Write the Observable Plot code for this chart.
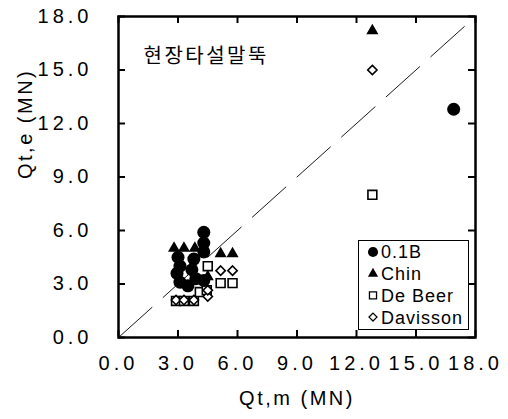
<!DOCTYPE html>
<html><head><meta charset="utf-8">
<script src="https://cdn.jsdelivr.net/npm/d3@7"></script>
<script src="https://cdn.jsdelivr.net/npm/@observablehq/plot@0.6"></script>
<style>
body{margin:0;background:#fff}
#c{position:relative;width:508px;height:419px}
#legend{position:absolute;left:0;top:0}
</style>
</head><body><div id="c"></div>
<script>
// ---- data ----
const tickValues = [0, 3, 6, 9, 12, 15, 18];
const tickLabels = ["0.0", "3.0", "6.0", "9.0", "12.0", "15.0", "18.0"];
const seriesNames = ["0.1B", "Chin", "De Beer", "Davisson"];
const title = "현장타설말뚝";
const xTitle = "Qt,m (MN)";
const yTitle = "Qt,e (MN)";

const b01X = [16.9, 4.3, 4.3, 4.3, 3.0, 3.1, 2.95, 3.1, 3.5, 3.9, 4.3, 3.7, 3.8];
const b01Y = [12.8, 5.9, 5.3, 4.8, 4.5, 4.0, 3.6, 3.1, 2.9, 3.3, 3.2, 3.8, 4.4];
const chinX = [12.8, 2.8, 3.3, 3.85, 5.15, 5.75, 4.5];
const chinY = [17.2, 5.0, 5.0, 5.0, 4.7, 4.7, 3.4];
const deBeerX = [12.8, 2.9, 3.3, 3.8, 4.1, 4.45, 4.5, 5.15, 5.75];
const deBeerY = [8.0, 2.05, 2.05, 2.05, 2.55, 2.65, 4.0, 3.05, 3.05];
const davX = [12.8, 2.9, 3.3, 3.8, 4.5, 4.5, 5.15, 5.75];
const davY = [15.0, 2.1, 2.1, 2.1, 2.3, 2.65, 3.75, 3.75];
const lineX = [0, 18];
const lineY = [0, 18];

// ---- build ----
const pts = (xs, ys) => xs.map((x, i) => ({x, y: ys[i]}));
const diag = pts(lineX, lineY);
const W = 508, H = 419, mL = 118, mR = 33, mT = 16, mB = 82;
const pw = W - mL - mR, ph = H - mT - mB;
const font = "'Liberation Sans', Arial, sans-serif";
const lab = d => tickLabels[tickValues.indexOf(d)];

const plot = Plot.plot({
  width: W, height: H,
  marginLeft: mL, marginRight: mR, marginTop: mT, marginBottom: mB,
  style: {fontFamily: font, background: "#fff", color: "#000", overflow: "visible"},
  x: {domain: [0, 18]},
  y: {domain: [0, 18]},
  marks: [
    Plot.line(diag, {x: "x", y: "y", stroke: "#000", strokeWidth: 0.9, strokeDasharray: "45,15"}),
    Plot.dot(pts(deBeerX, deBeerY), {x: "x", y: "y", symbol: "square", r: 5, fill: "#fff", stroke: "#000", strokeWidth: 1.6}),
    Plot.dot(pts(davX, davY), {x: "x", y: "y", symbol: "diamond2", r: 4.2, fill: "#fff", stroke: "#000", strokeWidth: 1.6}),
    Plot.dot(pts(chinX, chinY), {x: "x", y: "y", symbol: "triangle", r: 4.5, fill: "#000", stroke: "none"}),
    Plot.dot(pts(b01X, b01Y), {x: "x", y: "y", symbol: "circle", r: 6.5, fill: "#000", stroke: "none"}),
    Plot.frame({stroke: "#000", strokeWidth: 2.5}),
    Plot.tickX(tickValues, {x: d => d, insetTop: ph - 7, stroke: "#000", strokeWidth: 2}),
    Plot.tickX(tickValues, {x: d => d, insetBottom: ph - 7, stroke: "#000", strokeWidth: 2}),
    Plot.tickY(tickValues, {y: d => d, insetRight: pw - 7, stroke: "#000", strokeWidth: 2}),
    Plot.tickY(tickValues, {y: d => d, insetLeft: pw - 7, stroke: "#000", strokeWidth: 2}),
    Plot.axisX({ticks: tickValues, tickFormat: lab, tickSize: 0, tickPadding: 18, fontSize: 20, label: null}),
    Plot.axisY({ticks: tickValues, tickFormat: lab, tickSize: 0, tickPadding: 26, fontSize: 20, label: null}),
    Plot.text([xTitle], {frameAnchor: "bottom", dy: 67, fontSize: 20, fill: "#000"}),
    Plot.text([yTitle], {frameAnchor: "left", dx: -93, dy: 2, rotate: -90, fontSize: 20, fill: "#000"}),
    Plot.text([title], {frameAnchor: "top-left", dx: 25, dy: 32, textAnchor: "start", fontSize: 20,
      fontFamily: "'Noto Sans CJK KR', sans-serif", fill: "#000"})
  ]
});
const svg = d3.select(plot);
svg.selectAll("g[aria-label='x-axis tick label'] text, g[aria-label='y-axis tick label'] text").attr("letter-spacing", 4);
svg.selectAll("g[aria-label='text'] text").attr("letter-spacing", 2.5);
document.getElementById("c").appendChild(plot);

// ---- legend ----
const lg = d3.select("#c").append("svg").attr("id", "legend").attr("width", W).attr("height", H);
lg.append("rect").attr("x", 358.5).attr("y", 240.5).attr("width", 110).attr("height", 89)
  .attr("fill", "#fff").attr("stroke", "#000").attr("stroke-width", 1);
const legSym = [
  {t: d3.symbolCircle, s: 80, fill: "#000", stroke: "none"},
  {t: d3.symbolTriangle, s: 45, fill: "#000", stroke: "none"},
  {t: d3.symbolSquare, s: 50, fill: "#fff", stroke: "#000"},
  {t: d3.symbolDiamond2, s: 40, fill: "#fff", stroke: "#000"}
];
seriesNames.forEach((name, i) => {
  const cy = 252 + i * 21.7;
  const s = legSym[i];
  lg.append("path").attr("d", d3.symbol(s.t, s.s)()).attr("transform", `translate(373,${cy})`)
    .attr("fill", s.fill).attr("stroke", s.stroke).attr("stroke-width", 1.3);
  lg.append("text").attr("x", 381).attr("y", cy).attr("dy", "0.36em")
    .attr("font-family", font).attr("font-size", 18).attr("letter-spacing", 1).text(name);
});
</script>
</body></html>
